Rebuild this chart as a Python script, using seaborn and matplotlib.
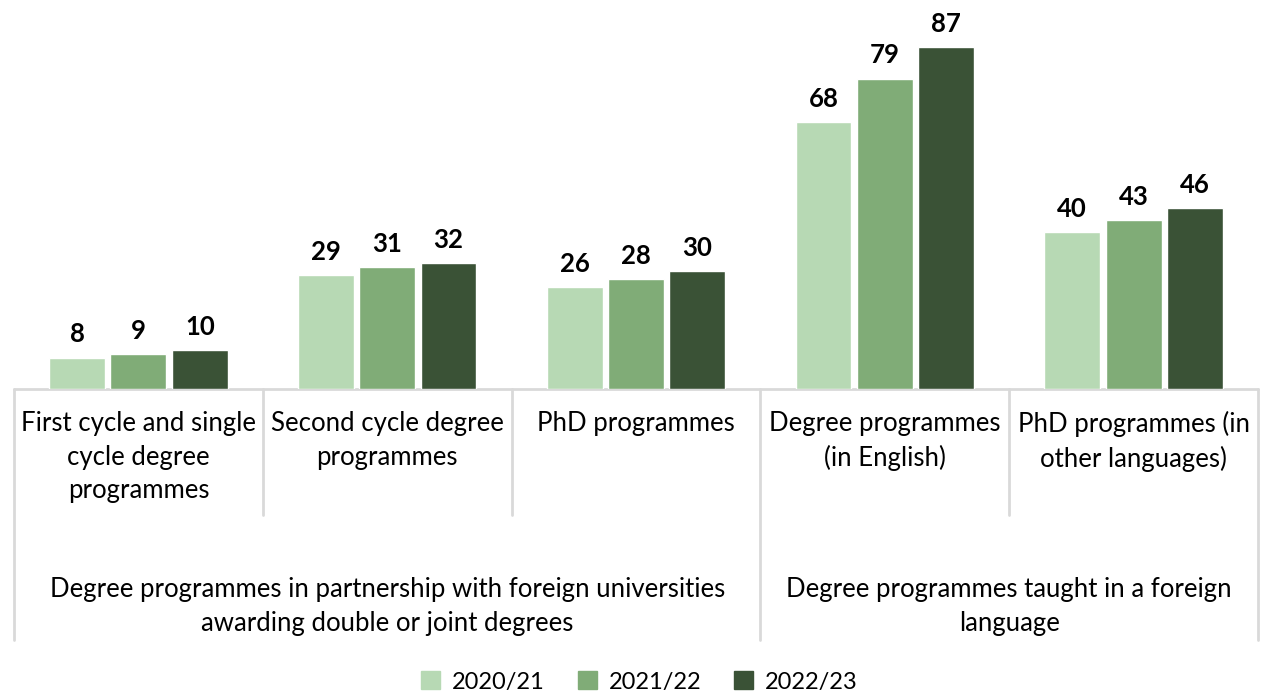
import pandas as pd
import matplotlib.pyplot as plt
import seaborn as sns

# Data
categories = [
    "First cycle and single\ncycle degree\nprogrammes",
    "Second cycle degree\nprogrammes",
    "PhD programmes",
    "Degree programmes\n(in English)",
    "PhD programmes (in\nother languages)",
]
years = ["2020/21", "2021/22", "2022/23"]
values_2020 = [8, 29, 26, 68, 40]
values_2021 = [9, 31, 28, 79, 43]
values_2022 = [10, 32, 30, 87, 46]
groups = [
    "Degree programmes in partnership with foreign universities\nawarding double or joint degrees",
    "Degree programmes taught in a foreign\nlanguage",
]
group_spans = [(0, 3), (3, 5)]  # category index ranges

colors = ["#b7d9b4", "#80ac77", "#3a5236"]
line_color = "#d9d9d9"

df = pd.DataFrame({
    "category": categories * 3,
    "year": [y for y in years for _ in categories],
    "value": values_2020 + values_2021 + values_2022,
})

sns.set_style("white")
plt.rcParams["font.family"] = ["Lato", "DejaVu Sans"]
plt.rcParams["text.color"] = "black"

fig = plt.figure(figsize=(12.79, 6.95), dpi=100)
ax = fig.add_axes([14 / 1279, 1 - 389 / 695, 1244 / 1279, 389 / 695])

sns.barplot(data=df, x="category", y="value", hue="year", palette=colors,
            width=0.74, gap=0.09, ax=ax, legend=False, saturation=1)

for container in ax.containers:
    ax.bar_label(container, fontsize=18.5, fontweight="bold", padding=8,
                 color="black")

ax.set_ylim(0, 99)
ax.set_xlim(-0.5, len(categories) - 0.5)
ax.set_xlabel("")
ax.set_ylabel("")
ax.set_xticks([])
ax.set_yticks([])
for s in ax.spines.values():
    s.set_visible(False)

px = 72 / 100  # pixels -> points
trans = ax.get_xaxis_transform()

# baseline
ax.plot([-0.5, len(categories) - 0.5], [0, 0], color=line_color, lw=2,
        transform=trans, clip_on=False, zorder=0)

# separators: short ones between categories, long ones at group edges
edges = [i - 0.5 for i in range(len(categories) + 1)]
group_edges = {-0.5, 2.5, 4.5}
for e in edges:
    depth = 251 if e in group_edges else 126
    ax.plot([e, e], [0, -depth / 389], color=line_color, lw=2,
            transform=trans, clip_on=False, zorder=0)

# category labels
for i, cat in enumerate(categories):
    ax.annotate(cat, xy=(i, 0), xycoords=trans, xytext=(0, -22 * px),
                textcoords="offset points", ha="center", va="top",
                fontsize=18.5, linespacing=1.43)

# group labels
for label, (a, b) in zip(groups, group_spans):
    ax.annotate(label, xy=((a + b - 1) / 2, 0), xycoords=trans,
                xytext=(0, -188 * px), textcoords="offset points",
                ha="center", va="top", fontsize=18.5, linespacing=1.43)

handles = [plt.Rectangle((0, 0), 1, 1, color=c) for c in colors]
fig.legend(handles, years, loc="center", bbox_to_anchor=(0.5, 1 - 682 / 695),
           ncol=3, frameon=False, fontsize=17, handlelength=0.8,
           handleheight=0.8, columnspacing=1.4, handletextpad=0.5,
           borderpad=0)

fig.savefig("out.png", dpi=100)
